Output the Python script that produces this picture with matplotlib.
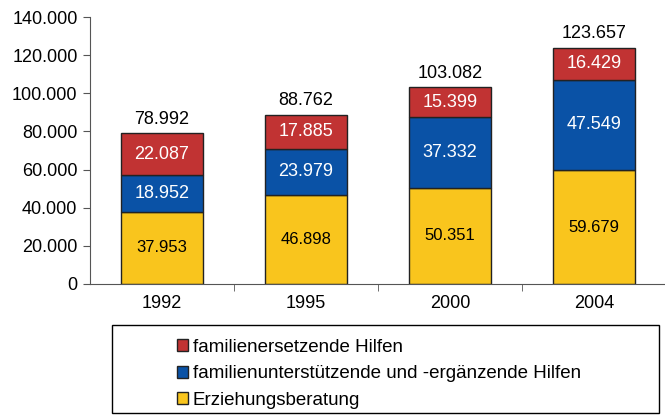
import matplotlib
matplotlib.use('Agg')
import matplotlib.pyplot as plt
from matplotlib.patches import Rectangle
import numpy as np

plt.rcParams['font.family'] = ['Liberation Sans', 'DejaVu Sans']

years = ['1992', '1995', '2000', '2004']
erziehung = [37953, 46898, 50351, 59679]
unterstuetzend = [18952, 23979, 37332, 47549]
ersetzend = [22087, 17885, 15399, 16429]
totals = [78992, 88762, 103082, 123657]

labels = ['familienersetzende Hilfen',
          'familienunterstützende und -ergänzende Hilfen',
          'Erziehungsberatung']
COLORS = {'red': '#C13333', 'blue': '#0A52A6', 'yellow': '#F9C51D'}


def fmt(v):
    return f'{v:,.0f}'.replace(',', '.')


fig = plt.figure(figsize=(6.65, 4.16), dpi=100)
ax = fig.add_axes([90 / 665, 132 / 416, 576 / 665, 267 / 416])

x = np.arange(len(years))
w = 0.565
b1 = ax.bar(x, erziehung, w, color=COLORS['yellow'], edgecolor='#222222', linewidth=1)
b2 = ax.bar(x, unterstuetzend, w, bottom=erziehung, color=COLORS['blue'],
            edgecolor='#222222', linewidth=1)
bottom3 = [a + b for a, b in zip(erziehung, unterstuetzend)]
b3 = ax.bar(x, ersetzend, w, bottom=bottom3, color=COLORS['red'],
            edgecolor='#222222', linewidth=1)

for i in range(len(years)):
    ax.text(x[i], erziehung[i] / 2, fmt(erziehung[i]), ha='center', va='center',
            fontsize=12, color='black')
    ax.text(x[i], erziehung[i] + unterstuetzend[i] / 2, fmt(unterstuetzend[i]),
            ha='center', va='center', fontsize=13, color='white')
    ax.text(x[i], bottom3[i] + ersetzend[i] / 2, fmt(ersetzend[i]),
            ha='center', va='center', fontsize=13, color='white')
    ax.text(x[i], totals[i] + 3000, fmt(totals[i]), ha='center', va='bottom',
            fontsize=13, color='black')

ax.set_xlim(-0.5, 3.5)
ax.set_ylim(0, 140000)
ax.set_yticks(np.arange(0, 140001, 20000))
ax.set_yticklabels([fmt(v) for v in np.arange(0, 140001, 20000)], fontsize=13)
ax.set_xticks(x)
ax.set_xticklabels(years, fontsize=13)
ax.tick_params(axis='x', length=0, pad=8)
ax.set_xticks([0.5, 1.5, 2.5], minor=True)
ax.tick_params(axis='x', which='minor', length=5, color='#555555')
ax.tick_params(axis='y', length=5, color='#555555', pad=4)
for s in ['top', 'right']:
    ax.spines[s].set_visible(False)
for s in ['left', 'bottom']:
    ax.spines[s].set_color('#555555')

# legend box
fig.patches.append(Rectangle((112 / 665, 3 / 416), 547 / 665, 88 / 416,
                             transform=fig.transFigure, fill=False,
                             edgecolor='black', linewidth=1))
handles = [b3, b2, b1]
fig.legend(handles, labels, loc='upper left', bbox_to_anchor=(177 / 665, 77 / 416),
           frameon=False, fontsize=13.5, handlelength=0.6, handleheight=0.6,
           handletextpad=0.25, labelspacing=0.5, borderpad=0, borderaxespad=0)

plt.savefig('out.png', dpi=100, facecolor='white')
